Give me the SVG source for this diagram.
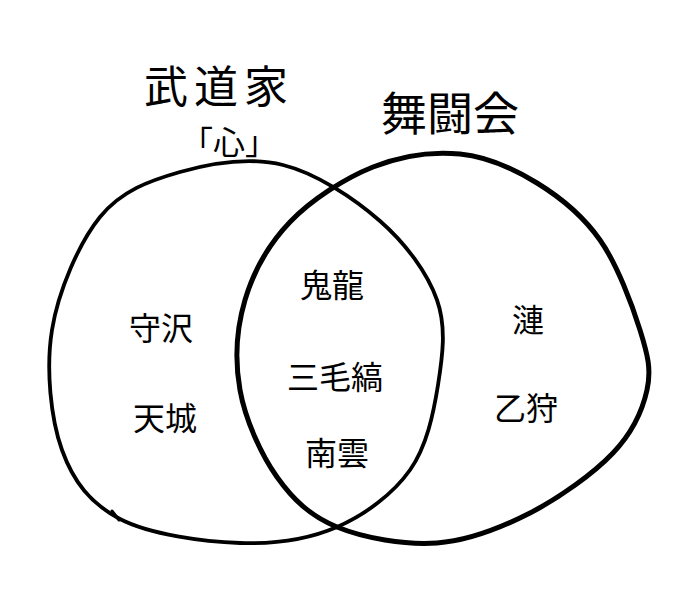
<svg xmlns="http://www.w3.org/2000/svg" width="680" height="607" viewBox="0 0 680 607">
  <style>
    .ring { fill: none; stroke: #000; stroke-linecap: round; stroke-linejoin: round; }
    .hand { font-family: "Noto Sans CJK JP", "Noto Sans CJK SC", sans-serif; font-weight: 400; fill: #000; text-anchor: middle; }
    .name { font-family: "Noto Sans CJK JP", "Noto Sans CJK SC", sans-serif; font-size: 32px; fill: #000; text-anchor: middle; }
  </style>
  <rect width="680" height="607" fill="#fff"/>
  <g id="set-budouka">
    <path class="ring" stroke-width="3.8" d="M283,165 C316.3,173.2 354.3,198.5 380,221 C405.7,243.5 427.3,272.7 437,300 C446.7,327.3 442.5,356.7 438,385 C433.5,413.3 426.8,446.3 410,470 C393.2,493.7 365.3,514.8 337,527 C308.7,539.2 276.2,544.3 240,543 C203.8,541.7 149.7,534.5 120,519 C90.3,503.5 73.3,481.5 62,450 C50.7,418.5 45.7,368.8 52,330 C58.3,291.2 78.7,243.3 100,217 C121.3,190.7 149.5,180.7 180,172 C210.5,163.3 249.7,156.8 283,165 Z"/>
    <path class="ring" stroke-width="3" d="M112,511 L119,520"/>
    <text class="hand" x="219" y="103" font-size="44" letter-spacing="6">武道家</text>
    <text class="hand" x="229" y="154" font-size="32">「心」</text>
  </g>
  <g id="set-butoukai">
    <path class="ring" stroke-width="5" d="M460,154 C487.3,156.7 513.7,168.7 537,183 C560.3,197.3 582.8,215.5 600,240 C617.2,264.5 632.2,305 640,330 C647.8,355 651.5,369.5 647,390 C642.5,410.5 632.5,432.5 613,453 C593.5,473.5 559.3,498 530,513 C500.7,528 469.2,540.7 437,543 C404.8,545.3 363.7,538 337,527 C310.3,516 293.2,499.8 277,477 C260.8,454.2 245.3,419.5 240,390 C234.7,360.5 236.7,328 245,300 C253.3,272 268.7,244.2 290,222 C311.3,199.8 344.7,178.3 373,167 C401.3,155.7 432.7,151.3 460,154 Z"/>
    <text class="hand" x="450" y="130" font-size="46">舞闘会</text>
  </g>
  <g id="only-budouka">
    <text class="name" x="161" y="340">守沢</text>
    <text class="name" x="165" y="430">天城</text>
  </g>
  <g id="both">
    <text class="name" x="332" y="297">鬼龍</text>
    <text class="name" x="335" y="389">三毛縞</text>
    <text class="name" x="337" y="465">南雲</text>
  </g>
  <g id="only-butoukai">
    <text class="name" x="528" y="332">漣</text>
    <text class="name" x="526" y="420">乙狩</text>
  </g>
  <g id="connectors"></g>
</svg>
